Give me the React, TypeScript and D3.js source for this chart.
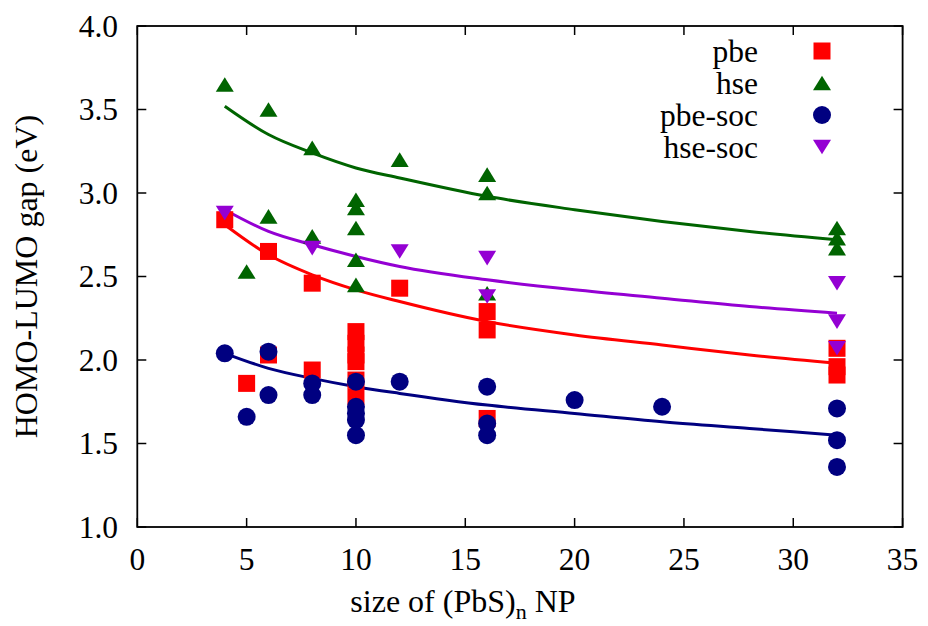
import React from "react";
import * as d3 from "d3";

// measured points
const pbeX = [4, 5, 6, 6, 8, 8, 10, 10, 10, 10, 10, 10, 12, 16, 16, 16, 32, 32, 32];
const pbeY = [2.84, 1.86, 2.65, 2.03, 2.46, 1.94, 2.17, 2.1, 2.03, 1.99, 1.88, 1.78, 2.43, 2.29, 2.18, 1.65, 2.07, 1.96, 1.91];

const hseX = [4, 5, 6, 6, 8, 8, 10, 10, 10, 10, 10, 12, 16, 16, 16, 32, 32, 32];
const hseY = [3.65, 2.53, 3.5, 2.86, 3.27, 2.74, 2.96, 2.91, 2.79, 2.6, 2.45, 3.2, 3.11, 3.0, 2.4, 2.79, 2.73, 2.67];

const pbeSocX = [4, 5, 6, 6, 8, 8, 10, 10, 10, 10, 10, 12, 16, 16, 16, 20, 24, 32, 32, 32];
const pbeSocY = [2.04, 1.66, 2.05, 1.79, 1.86, 1.79, 1.87, 1.72, 1.68, 1.64, 1.55, 1.87, 1.84, 1.62, 1.55, 1.76, 1.72, 1.71, 1.52, 1.36];

const hseSocX = [4, 8, 12, 16, 16, 32, 32, 32];
const hseSocY = [2.88, 2.67, 2.65, 2.61, 2.38, 2.46, 2.23, 2.07];

// fitted curves
const fitX = [4, 6, 8, 10, 12, 16, 20, 24, 28, 32];
const pbeFit = [2.81, 2.63, 2.51, 2.42, 2.35, 2.23, 2.15, 2.09, 2.03, 1.98];
const hseFit = [3.52, 3.35, 3.24, 3.15, 3.09, 2.98, 2.9, 2.83, 2.77, 2.72];
const pbeSocFit = [2.04, 1.95, 1.89, 1.84, 1.8, 1.73, 1.68, 1.63, 1.59, 1.55];
const hseSocFit = [2.9, 2.77, 2.69, 2.62, 2.56, 2.48, 2.42, 2.37, 2.32, 2.28];

const xTicks = [0, 5, 10, 15, 20, 25, 30, 35];
const yTicks = [1.0, 1.5, 2.0, 2.5, 3.0, 3.5, 4.0];

const seriesNames = ["pbe", "hse", "pbe-soc", "hse-soc"];

const txt = { fontFamily: "Liberation Serif" };

const W = 928;
const H = 626;
const left = 137.3;
const right = 902.6;
const top = 26;
const bottom = 527;

const x = d3.scaleLinear().domain([0, 35]).range([left, right]);
const y = d3.scaleLinear().domain([1, 4]).range([bottom, top]);

type Kind = "square" | "up" | "circle" | "down";

const Marker = ({ kind, cx, cy, color }: { kind: Kind; cx: number; cy: number; color: string }) => {
  if (kind === "square") {
    return <rect x={cx - 8.5} y={cy - 8.5} width={17} height={17} fill={color} />;
  }
  if (kind === "circle") {
    return <circle cx={cx} cy={cy} r={9} fill={color} />;
  }
  const w = 9;
  const h = 7.3;
  const d =
    kind === "up"
      ? `M${cx - w},${cy + h}L${cx + w},${cy + h}L${cx},${cy - h}Z`
      : `M${cx - w},${cy - h}L${cx + w},${cy - h}L${cx},${cy + h}Z`;
  return <path d={d} fill={color} />;
};

const series = [
  { name: seriesNames[0], xs: pbeX, ys: pbeY, fit: pbeFit, kind: "square" as Kind, color: "#ff0000" },
  { name: seriesNames[1], xs: hseX, ys: hseY, fit: hseFit, kind: "up" as Kind, color: "#006400" },
  { name: seriesNames[2], xs: pbeSocX, ys: pbeSocY, fit: pbeSocFit, kind: "circle" as Kind, color: "#000080" },
  { name: seriesNames[3], xs: hseSocX, ys: hseSocY, fit: hseSocFit, kind: "down" as Kind, color: "#9400d3" },
];

const line = d3
  .line<number>()
  .x((_, i) => x(fitX[i]))
  .y((v) => y(v))
  .curve(d3.curveMonotoneX);

export default function App() {
  const tickLen = 9;
  return (
    <svg width={W} height={H} style={{ position: "absolute", left: 0, top: 0, background: "#fff" }}>
      <rect x={0} y={0} width={W} height={H} fill="#fff" />

      {/* ticks, mirrored on all sides */}
      {xTicks.map((t) => (
        <g key={"xt" + t}>
          <line x1={x(t)} x2={x(t)} y1={bottom} y2={bottom - tickLen} stroke="#000" strokeWidth={1.5} />
          <line x1={x(t)} x2={x(t)} y1={top} y2={top + tickLen} stroke="#000" strokeWidth={1.5} />
          <text x={x(t)} y={570} fontSize={31.5} textAnchor="middle" style={txt}>
            {t}
          </text>
        </g>
      ))}
      {yTicks.map((t) => (
        <g key={"yt" + t}>
          <line x1={left} x2={left + tickLen} y1={y(t)} y2={y(t)} stroke="#000" strokeWidth={1.5} />
          <line x1={right} x2={right - tickLen} y1={y(t)} y2={y(t)} stroke="#000" strokeWidth={1.5} />
          <text x={118} y={y(t) + 10.5} fontSize={31.5} textAnchor="end" style={txt}>
            {t.toFixed(1)}
          </text>
        </g>
      ))}

      {/* fits */}
      {series.map((s) => (
        <path key={"fit" + s.name} d={line(s.fit) || ""} fill="none" stroke={s.color} strokeWidth={3} />
      ))}

      {/* points */}
      {series.map((s) => (
        <g key={"pts" + s.name}>
          {s.xs.map((xv, i) => (
            <Marker key={i} kind={s.kind} cx={x(xv)} cy={y(s.ys[i])} color={s.color} />
          ))}
        </g>
      ))}

      {/* legend */}
      {series.map((s, i) => (
        <g key={"leg" + s.name}>
          <text x={758} y={51 + i * 32 + 11} fontSize={31.5} textAnchor="end" style={txt}>
            {s.name}
          </text>
          <Marker kind={s.kind} cx={822} cy={51 + i * 32} color={s.color} />
        </g>
      ))}

      {/* frame */}
      <rect x={left} y={top} width={right - left} height={bottom - top} fill="none" stroke="#000" strokeWidth={1.8} />

      {/* axis titles */}
      <text x={(left + right) / 2 - 57} y={612} fontSize={32} textAnchor="middle" style={txt}>
        size of (PbS)
        <tspan fontSize={22} dy={7}>n</tspan>
        <tspan dy={-7}> NP</tspan>
      </text>
      <text
        transform={`translate(37,${(top + bottom) / 2}) rotate(-90)`}
        fontSize={32}
        textAnchor="middle"
        style={txt}
      >
        HOMO-LUMO gap (eV)
      </text>
    </svg>
  );
}
